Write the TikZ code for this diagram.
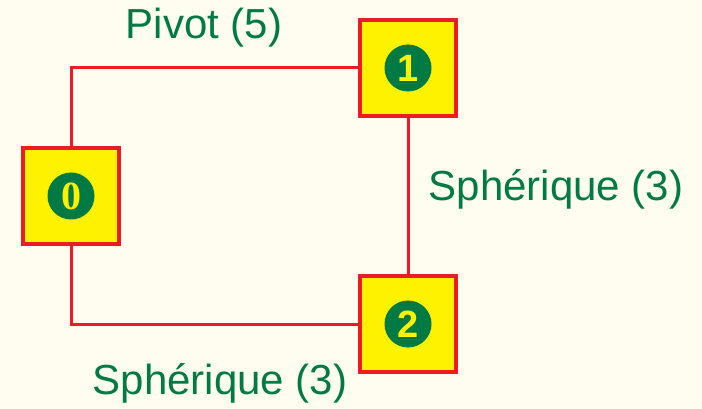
\documentclass[tikz,border=0pt]{standalone}
\usepackage{fontspec}
\setmainfont{Liberation Sans}
\newfontfamily\serifdigit{Liberation Serif}
\definecolor{paper}{HTML}{FFFDF0}
\definecolor{boxfill}{HTML}{FFF200}
\definecolor{linkred}{HTML}{ED1C24}
\definecolor{textgreen}{HTML}{007A45}
\tikzset{
  part/.style={draw=linkred, line width=3.5pt, fill=boxfill, minimum size=96pt, inner sep=0pt},
  badge/.style={circle, fill=textgreen, text=boxfill, minimum size=47pt, inner sep=0pt,
    font=\fontsize{38}{38}\selectfont\bfseries},
  link/.style={draw=linkred, line width=3pt},
  jointlabel/.style={text=textgreen, font=\fontsize{42}{42}\selectfont, inner sep=0pt}
}
\begin{document}
\begin{tikzpicture}[x=1pt, y=-1pt]
  \fill[paper] (0,0) rectangle (702,409);
  \useasboundingbox (0,0) rectangle (702,409);
  % the three parts
  \node[part] (p0) at (71,196) {};
  \node[part] (p1) at (408,68) {};
  \node[part] (p2) at (408,324) {};
  % links between the parts
  \coordinate (c01) at (71,68);
  \coordinate (c02) at (71,324);
  \draw[link] (p0.north) -- (c01) -- (p1.west);
  \draw[link] (p1.south) -- (p2.north);
  \draw[link] (p0.south) -- (c02) -- (p2.west);
  % numbered badges
  \node[badge, font=\fontsize{40}{40}\selectfont\bfseries\serifdigit] (b0) at (p0) {0};
  \node[badge] (b1) at (p1) {1};
  \node[badge] (b2) at (p2) {2};
  % joint labels
  \node[jointlabel] (l1) at (204,28) {Pivot (5)};
  \node[jointlabel] (l2) at (556,189) {Sphérique (3)};
  \node[jointlabel] (l3) at (220,383) {Sphérique (3)};
\end{tikzpicture}
\end{document}
